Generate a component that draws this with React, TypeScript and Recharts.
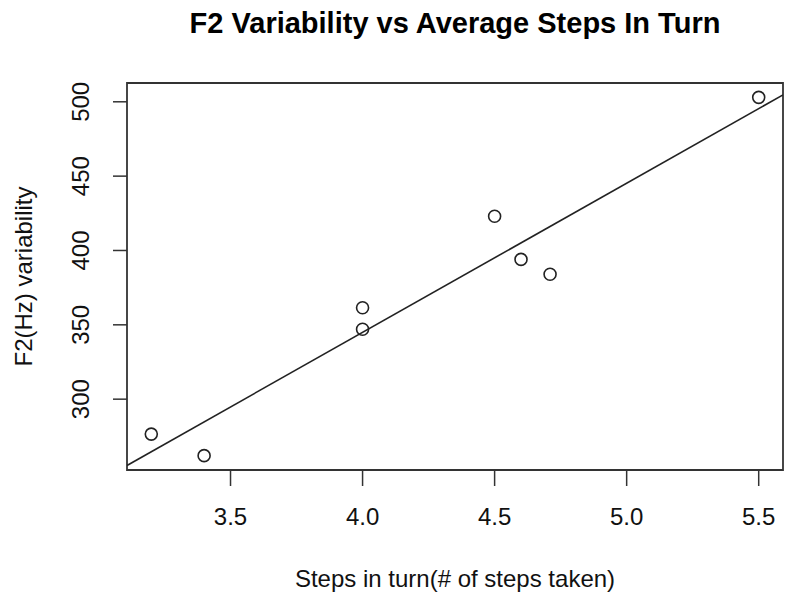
import React from 'react';
import {
  ScatterChart,
  Scatter,
  XAxis,
  YAxis,
  ReferenceArea,
  ReferenceLine,
  Label,
} from 'recharts';

// Average steps per turn and the matching F2 variability (Hz)
const stepsInTurn = [3.2, 3.4, 4.0, 4.0, 4.5, 4.6, 4.71, 5.5];
const f2Variability = [276.5, 262, 361.5, 347, 423, 394, 384, 503];

const xTicks = [3.5, 4.0, 4.5, 5.0, 5.5];
const yTicks = [300, 350, 400, 450, 500];

const FONT = '"Liberation Sans", Arial, Helvetica, sans-serif';
const INK = '#222';

const points = stepsInTurn.map((x, i) => ({ x, y: f2Variability[i] }));

// base-graphics style padding: 4% of the data range on each side
const pad = (vals: number[]): [number, number] => {
  const lo = Math.min(...vals);
  const hi = Math.max(...vals);
  const d = (hi - lo) * 0.04;
  return [lo - d, hi + d];
};
const xDomain = pad(stepsInTurn);
const yDomain = pad(f2Variability);

// least squares fit for the trend line
const n = stepsInTurn.length;
const mx = stepsInTurn.reduce((a, b) => a + b, 0) / n;
const my = f2Variability.reduce((a, b) => a + b, 0) / n;
let sxx = 0;
let sxy = 0;
stepsInTurn.forEach((x, i) => {
  sxx += (x - mx) * (x - mx);
  sxy += (x - mx) * (f2Variability[i] - my);
});
const slope = sxy / sxx;
const intercept = my - slope * mx;
const fitAt = (x: number) => intercept + slope * x;

const OpenCircle = (props: any) => {
  const { cx, cy } = props;
  return <circle cx={cx} cy={cy} r={6} fill="none" stroke={INK} strokeWidth={1.6} />;
};

const YTick = (props: any) => {
  const { x, y, payload } = props;
  const cx = x - 22;
  return (
    <text
      x={cx}
      y={y}
      transform={`rotate(-90, ${cx}, ${y})`}
      textAnchor="middle"
      dominantBaseline="central"
      fontSize={24}
      fontFamily={FONT}
      fill="#111"
    >
      {payload.value}
    </text>
  );
};

const XTitle = (props: any) => {
  const { viewBox } = props;
  return (
    <text
      x={viewBox.x + viewBox.width / 2}
      y={viewBox.y + 117}
      textAnchor="middle"
      fontSize={24}
      fontFamily={FONT}
      fill="#111"
    >
      Steps in turn(# of steps taken)
    </text>
  );
};

const YTitle = (props: any) => {
  const { viewBox } = props;
  const cx = 23;
  const cy = viewBox.y + viewBox.height / 2;
  return (
    <text
      x={cx}
      y={cy}
      transform={`rotate(-90, ${cx}, ${cy})`}
      textAnchor="middle"
      dominantBaseline="central"
      fontSize={24}
      fontFamily={FONT}
      fill="#111"
    >
      F2(Hz) variability
    </text>
  );
};

export default function App() {
  return (
    <div style={{ position: 'absolute', left: 0, top: 0, width: 785, height: 593, background: '#fff' }}>
      <div
        style={{
          position: 'absolute',
          left: 127,
          width: 656,
          top: 9,
          lineHeight: '29px',
          fontSize: 29,
          fontWeight: 'bold',
          fontFamily: FONT,
          textAlign: 'center',
          color: '#000',
        }}
      >
        F2 Variability vs Average Steps In Turn
      </div>
      <ScatterChart width={785} height={593} margin={{ top: 83, right: 2, bottom: 0, left: 0 }}>
        <XAxis
          type="number"
          dataKey="x"
          domain={xDomain}
          ticks={xTicks}
          allowDataOverflow
          height={123}
          axisLine={false}
          tickSize={16}
          tickMargin={22}
          tickLine={{ stroke: '#333', strokeWidth: 1.5 }}
          tick={{ fontSize: 24, fontFamily: FONT, fill: '#111' }}
          tickFormatter={(v: number) => v.toFixed(1)}
        >
          <Label content={<XTitle />} />
        </XAxis>
        <YAxis
          type="number"
          dataKey="y"
          domain={yDomain}
          ticks={yTicks}
          allowDataOverflow
          width={127}
          axisLine={false}
          tickSize={14}
          tickMargin={10}
          tickLine={{ stroke: '#333', strokeWidth: 1.5 }}
          tick={<YTick />}
        >
          <Label content={<YTitle />} />
        </YAxis>
        <ReferenceArea
          x1={xDomain[0]}
          x2={xDomain[1]}
          y1={yDomain[0]}
          y2={yDomain[1]}
          fill="none"
          fillOpacity={0}
          stroke="#333"
          strokeWidth={1.8}
          ifOverflow="visible"
        />
        <ReferenceLine
          segment={[
            { x: xDomain[0], y: fitAt(xDomain[0]) },
            { x: xDomain[1], y: fitAt(xDomain[1]) },
          ]}
          stroke={INK}
          strokeWidth={1.6}
          ifOverflow="hidden"
        />
        <Scatter data={points} shape={<OpenCircle />} isAnimationActive={false} />
      </ScatterChart>
    </div>
  );
}
